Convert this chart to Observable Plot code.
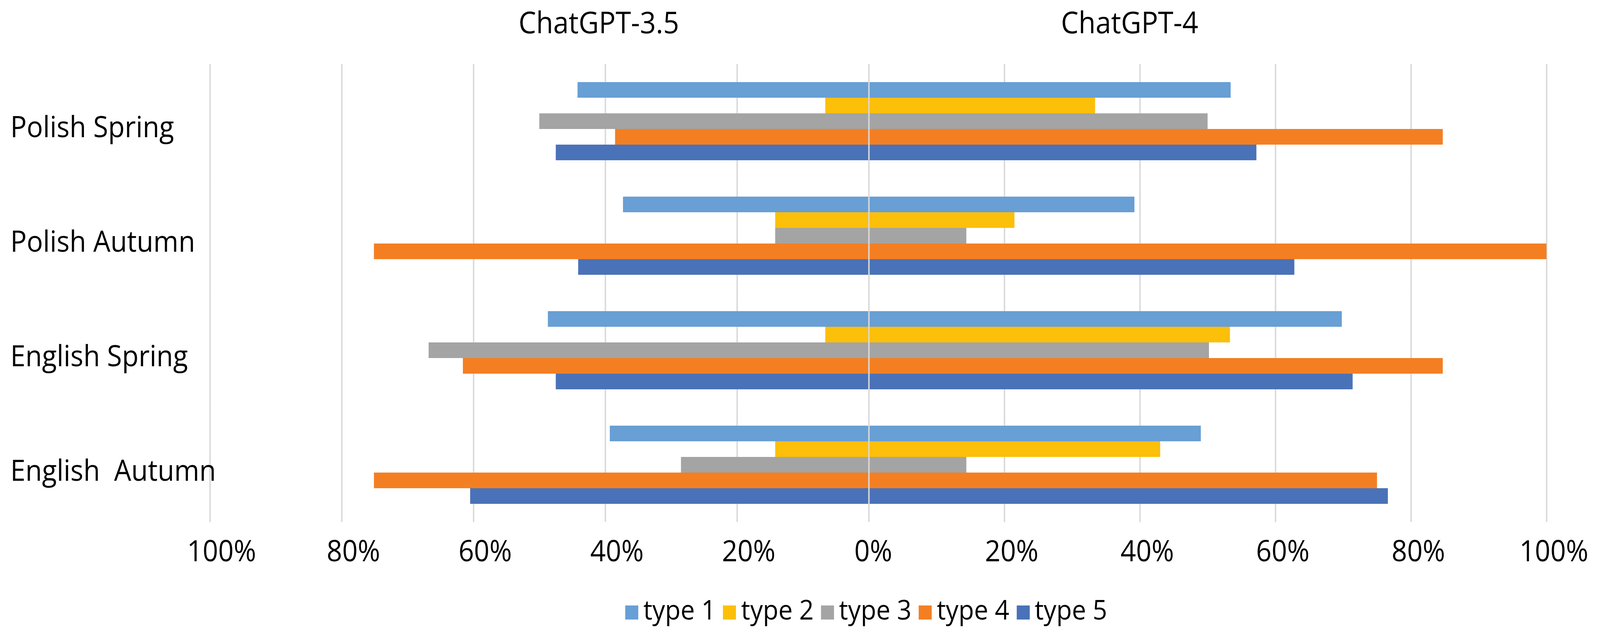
<!DOCTYPE html>
<html>
<head>
<meta charset="utf-8">
<script src="https://cdn.jsdelivr.net/npm/d3@7"></script>
<script src="https://cdn.jsdelivr.net/npm/@observablehq/plot@0.6"></script>
<style>
html, body { margin: 0; padding: 0; background: #fff; overflow: hidden; }
#wrap { position: absolute; left: 0; top: 0; width: 4422px; height: 1622px; overflow: hidden; font-family: "Open Sans", sans-serif; color: #000; background: #fff; transform-origin: 0 0; }
.chart { position: absolute; left: 0; top: 0; }
.chart svg { background: transparent; }
svg text { white-space: pre; }
.title { position: absolute; top: 17px; font-size: 77px; line-height: 77px; transform: translateX(-50%); white-space: nowrap; }
#legend { position: absolute; left: 1728px; top: 1522px; font-size: 70px; line-height: 72px; white-space: nowrap; }
.item { display: inline-block; margin-right: 20px; }
.sw { display: inline-block; width: 36px; height: 36px; margin-right: 14px; }
</style>
</head>
<body>
<div id="wrap">
  <div class="chart" id="left"></div>
  <div class="chart" id="right"></div>
  <div class="title" id="t0" style="left:1655px"></div>
  <div class="title" id="t1" style="left:3122px"></div>
  <div id="legend"></div>
</div>
<script>
// ---- data ----
const categories = ["Polish Spring", "Polish Autumn", "English Spring", "English  Autumn"];
const types = ["type 1", "type 2", "type 3", "type 4", "type 5"];
const models = ["ChatGPT-3.5", "ChatGPT-4"];
// percent values, per category (rows) and type 1..5 (columns)
const gpt35 = [
  [44.2, 6.6, 50.0, 38.5, 47.5],
  [37.3, 14.2, 14.2, 75.1, 44.1],
  [48.7, 6.6, 66.8, 61.6, 47.5],
  [39.3, 14.2, 28.5, 75.1, 60.5]
];
const gpt4 = [
  [53.4, 33.4, 50.0, 84.7, 57.2],
  [39.2, 21.5, 14.4, 100.0, 62.8],
  [69.8, 53.3, 50.2, 84.7, 71.4],
  [49.0, 43.0, 14.4, 75.0, 76.6]
];
const leftTicks = [100, 80, 60, 40, 20];
const zeroTick = [0];
const rightTicks = [20, 40, 60, 80, 100];
const colors = ["#689fd4", "#fcbf0a", "#a4a4a4", "#f47f22", "#4a72b8"];

// ---- tables ----
function table(values) {
  const rows = [];
  categories.forEach((c, i) => types.forEach((t, j) => rows.push({category: c, type: t, value: values[i][j]})));
  return rows;
}
const rows35 = table(gpt35);
const rows4 = table(gpt4);

const fmt = d => d + "%";
const gridStyle = {stroke: "#d9d9d9", strokeWidth: 4, strokeOpacity: 1, insetTop: -44.6, insetBottom: -44.6};
const common = {
  width: 4422,
  height: 1480,
  marginTop: 163,
  marginBottom: 145,
  style: {fontFamily: '"Open Sans", sans-serif', background: "transparent", color: "#000", overflow: "visible"},
  y: {domain: types, axis: null, paddingInner: 0, paddingOuter: 0},
  color: {domain: types, range: colors}
};
const tickOpts = {tickSize: 0, tickPadding: 91, fontSize: 75, label: null};

// left chart: ChatGPT-3.5 (grows leftwards)
const left = Plot.plot({
  ...common,
  marginLeft: 580,
  marginRight: 4422 - 2401,
  x: {domain: [100, 0], label: null},
  fy: {domain: categories, label: null, paddingInner: 0.304, paddingOuter: 0.152},
  marks: [
    Plot.ruleX(leftTicks, gridStyle),
    Plot.barX(rows35, {fy: "category", y: "type", x: "value", fill: "type"}),
    Plot.axisX({...tickOpts, ticks: leftTicks, tickFormat: fmt, dx: 32}),
    Plot.axisFy({anchor: "left", tickSize: 0, tickPadding: 0, textAnchor: "start", dx: -552, dy: 16, fontSize: 75, label: null})
  ]
});

// right chart: ChatGPT-4 (grows rightwards)
const right = Plot.plot({
  ...common,
  marginLeft: 2401,
  marginRight: 148,
  x: {domain: [0, 100], label: null},
  fy: {domain: categories, label: null, axis: null, paddingInner: 0.304, paddingOuter: 0.152},
  marks: [
    Plot.ruleX(rightTicks, gridStyle),
    Plot.barX(rows4, {fy: "category", y: "type", x: "value", fill: "type"}),
    Plot.ruleX(zeroTick, gridStyle),
    Plot.axisX({...tickOpts, ticks: zeroTick, tickFormat: fmt, dx: 12}),
    Plot.axisX({...tickOpts, ticks: rightTicks, tickFormat: fmt, dx: 20})
  ]
});

document.getElementById("left").appendChild(left);
document.getElementById("right").appendChild(right);

document.getElementById("t0").textContent = models[0];
document.getElementById("t1").textContent = models[1];

const legend = document.getElementById("legend");
types.forEach((t, i) => {
  const item = document.createElement("span");
  item.className = "item";
  const sw = document.createElement("span");
  sw.className = "sw";
  sw.style.background = colors[i];
  item.appendChild(sw);
  item.appendChild(document.createTextNode(t));
  legend.appendChild(item);
});

// fit the 4422x1622 layout into the actual viewport
function fit() {
  const wrap = document.getElementById("wrap");
  const sx = window.innerWidth / 4422, sy = window.innerHeight / 1622;
  wrap.style.transform = `scale(${sx}, ${sy})`;
}
fit();
window.addEventListener("resize", fit);
</script>
</body>
</html>
